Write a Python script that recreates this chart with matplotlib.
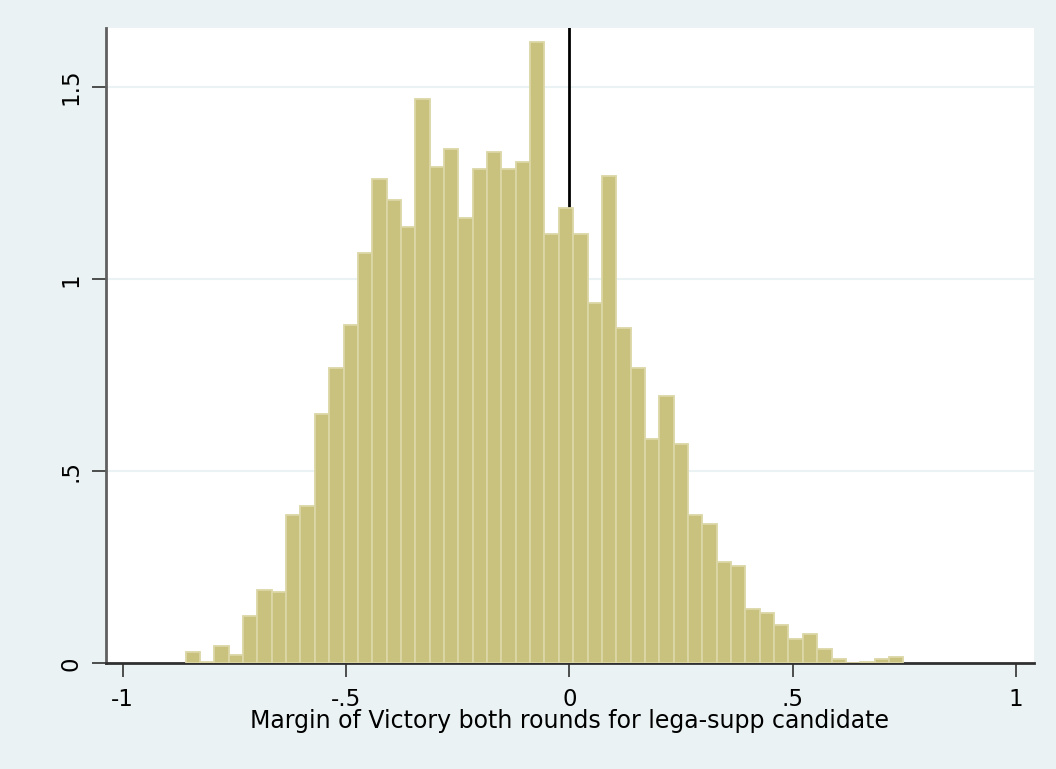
import numpy as np
import matplotlib
matplotlib.use("Agg")
import matplotlib.pyplot as plt

plt.rcParams['font.family'] = ['DejaVu Sans']

# Histogram data (density), 50 bins
bin_start = -0.859
bin_width = 0.03214
density = [0.029, 0.004, 0.045, 0.022, 0.124, 0.191, 0.185, 0.386, 0.410, 0.649,
           0.768, 0.880, 1.069, 1.260, 1.207, 1.136, 1.470, 1.291, 1.339, 1.160,
           1.288, 1.330, 1.286, 1.304, 1.618, 1.119, 1.185, 1.119, 0.938, 1.270,
           0.874, 0.770, 0.583, 0.696, 0.570, 0.386, 0.362, 0.263, 0.255, 0.141,
           0.131, 0.099, 0.064, 0.076, 0.037, 0.012, 0.0, 0.004, 0.012, 0.016]

xticks = [-1, -0.5, 0, 0.5, 1]
xtick_labels = ["-1", "-.5", "0", ".5", "1"]
yticks = [0, 0.5, 1, 1.5]
ytick_labels = ["0", ".5", "1", "1.5"]
xlabel = "Margin of Victory both rounds for lega-supp candidate"
xline_at = 0

bg = "#eaf2f3"
fig = plt.figure(figsize=(10.56, 7.69), dpi=100, facecolor=bg)
ax = fig.add_axes([0.1001, 0.1372, 0.8788, 0.8264])
ax.set_facecolor("white")

lefts = bin_start + bin_width * np.arange(len(density))
ax.bar(lefts, density, width=bin_width, align='edge', color="#c9c27f",
       edgecolor="#dbd7a6", linewidth=1.3, zorder=3)

for y in yticks[1:]:
    ax.axhline(y, color=bg, linewidth=1.5, zorder=1)
ax.axvline(xline_at, color="black", linewidth=2, zorder=2)

ax.set_xlim(-1.038, 1.040)
ax.set_ylim(0, 1.654)

ax.set_xticks(xticks)
ax.set_xticklabels(xtick_labels)
ax.set_yticks(yticks)
ax.set_yticklabels(ytick_labels, rotation=90, va='center')

for s in ['top', 'right']:
    ax.spines[s].set_visible(False)
ax.spines['left'].set_color("#606060")
ax.spines['left'].set_linewidth(2)
ax.spines['bottom'].set_color("#303030")
ax.spines['bottom'].set_linewidth(2)
ax.tick_params(axis='both', direction='out', length=10, width=1.3,
               colors="#404040", labelcolor="black", labelsize=16.5)
ax.tick_params(axis='x', pad=8)
ax.tick_params(axis='y', pad=7)
ax.set_xlabel(xlabel, fontsize=17, labelpad=-1.5)

fig.savefig("out.png", dpi=100, facecolor=bg)
